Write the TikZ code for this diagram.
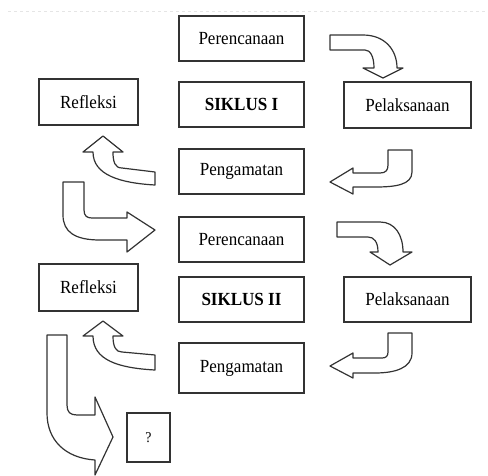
\documentclass[tikz,border=0pt]{standalone}
\usepackage{fontspec}
\usepackage{graphicx}
\setmainfont{Liberation Serif}
\newcommand{\ctxt}[1]{\scalebox{0.92}[1]{#1}}
\begin{document}
\begin{tikzpicture}[x=1pt,y=-1pt,
  box/.style={draw=black!80, line width=1.2pt, fill=white, inner sep=0pt,
    font=\fontsize{18.5}{22}\selectfont},
  blockarrow/.style={draw=black!80, line width=1.2pt, fill=white, line join=round}]
\useasboundingbox (0,0) rectangle (488,475);
\draw[black!10, dashed, line width=0.5pt] (8,11) -- (488,11);
% cycle I
\node[box, minimum width=125pt, minimum height=45pt] (per1) at (241.5,38.5) {\ctxt{Perencanaan}};
\node[box, minimum width=125pt, minimum height=45pt, font=\fontsize{18.5}{22}\selectfont\bfseries] (sik1) at (241.5,104.5) {\ctxt{SIKLUS I}};
\node[box, minimum width=99pt, minimum height=46pt] (ref1) at (88.5,102) {\ctxt{Refleksi}};
\node[box, minimum width=127pt, minimum height=46pt] (pel1) at (407.5,105) {\ctxt{Pelaksanaan}};
\node[box, minimum width=125pt, minimum height=45pt] (pen1) at (241.5,171.5) {\ctxt{Pengamatan}};
% cycle II
\node[box, minimum width=125pt, minimum height=45pt] (per2) at (241.5,239.5) {\ctxt{Perencanaan}};
\node[box, minimum width=125pt, minimum height=45pt, font=\fontsize{18.5}{22}\selectfont\bfseries] (sik2) at (241.5,299.5) {\ctxt{SIKLUS II}};
\node[box, minimum width=99pt, minimum height=47pt] (ref2) at (88.5,287.5) {\ctxt{Refleksi}};
\node[box, minimum width=127pt, minimum height=45pt] (pel2) at (407.5,299.5) {\ctxt{Pelaksanaan}};
\node[box, minimum width=125pt, minimum height=50pt] (pen2) at (241.5,368) {\ctxt{Pengamatan}};
\node[box, minimum width=43pt, minimum height=49pt, font=\fontsize{15}{17}\selectfont] (q) at (148.5,437.5) {\ctxt{?}};
% block arrows
\draw[blockarrow] (330,35) -- (363,35) .. controls (385,35) and (397,50) .. (397,68)
  -- (403,68) -- (383,78) -- (363,68) -- (374,68) .. controls (374,56) and (370,50) .. (365,50)
  -- (330,50) -- cycle;
\draw[blockarrow] (388,150) -- (412,150) -- (412,172) .. controls (412,185) and (395,187) .. (375,187)
  -- (353,187) -- (353,194) -- (330,182) -- (353,168) -- (353,173) -- (380,173)
  .. controls (386,173) and (388,170) .. (388,165) -- cycle;
\draw[blockarrow] (155,172) -- (155,185) .. controls (120,183) and (93,175) .. (93,152)
  -- (83,152) -- (103,136) -- (123,152) -- (113,152) .. controls (113,162) and (115,168) .. (122,168) -- cycle;
\draw[blockarrow] (63,182) -- (84,182) -- (84,210) .. controls (84,216) and (87,218) .. (92,218)
  -- (127,218) -- (127,212) -- (155,230) -- (127,252) -- (127,240) -- (100,240)
  .. controls (75,240) and (63,232) .. (63,215) -- cycle;
\draw[blockarrow] (337,222) -- (380,222) .. controls (395,222) and (403,235) .. (403,252)
  -- (412,252) -- (390,265) -- (370,252) -- (378,252) .. controls (378,242) and (374,237) .. (368,237)
  -- (337,237) -- cycle;
\draw[blockarrow] (388,333) -- (412,333) -- (412,353) .. controls (412,368) and (395,373) .. (375,373)
  -- (353,373) -- (353,378) -- (330,366) -- (353,353) -- (353,358) -- (382,358)
  .. controls (386,358) and (388,356) .. (388,352) -- cycle;
\draw[blockarrow] (155,355) -- (155,370) .. controls (118,368) and (93,360) .. (93,336)
  -- (83,336) -- (103,321) -- (123,336) -- (113,336) .. controls (113,347) and (116,352) .. (122,352) -- cycle;
\draw[blockarrow] (47,335) -- (67,335) -- (67,405) .. controls (67,412) and (70,415) .. (77,415)
  -- (95,415) -- (95,397) -- (113,437) -- (95,475) -- (95,460)
  .. controls (65,458) and (47,440) .. (47,413) -- cycle;
\end{tikzpicture}
\end{document}
